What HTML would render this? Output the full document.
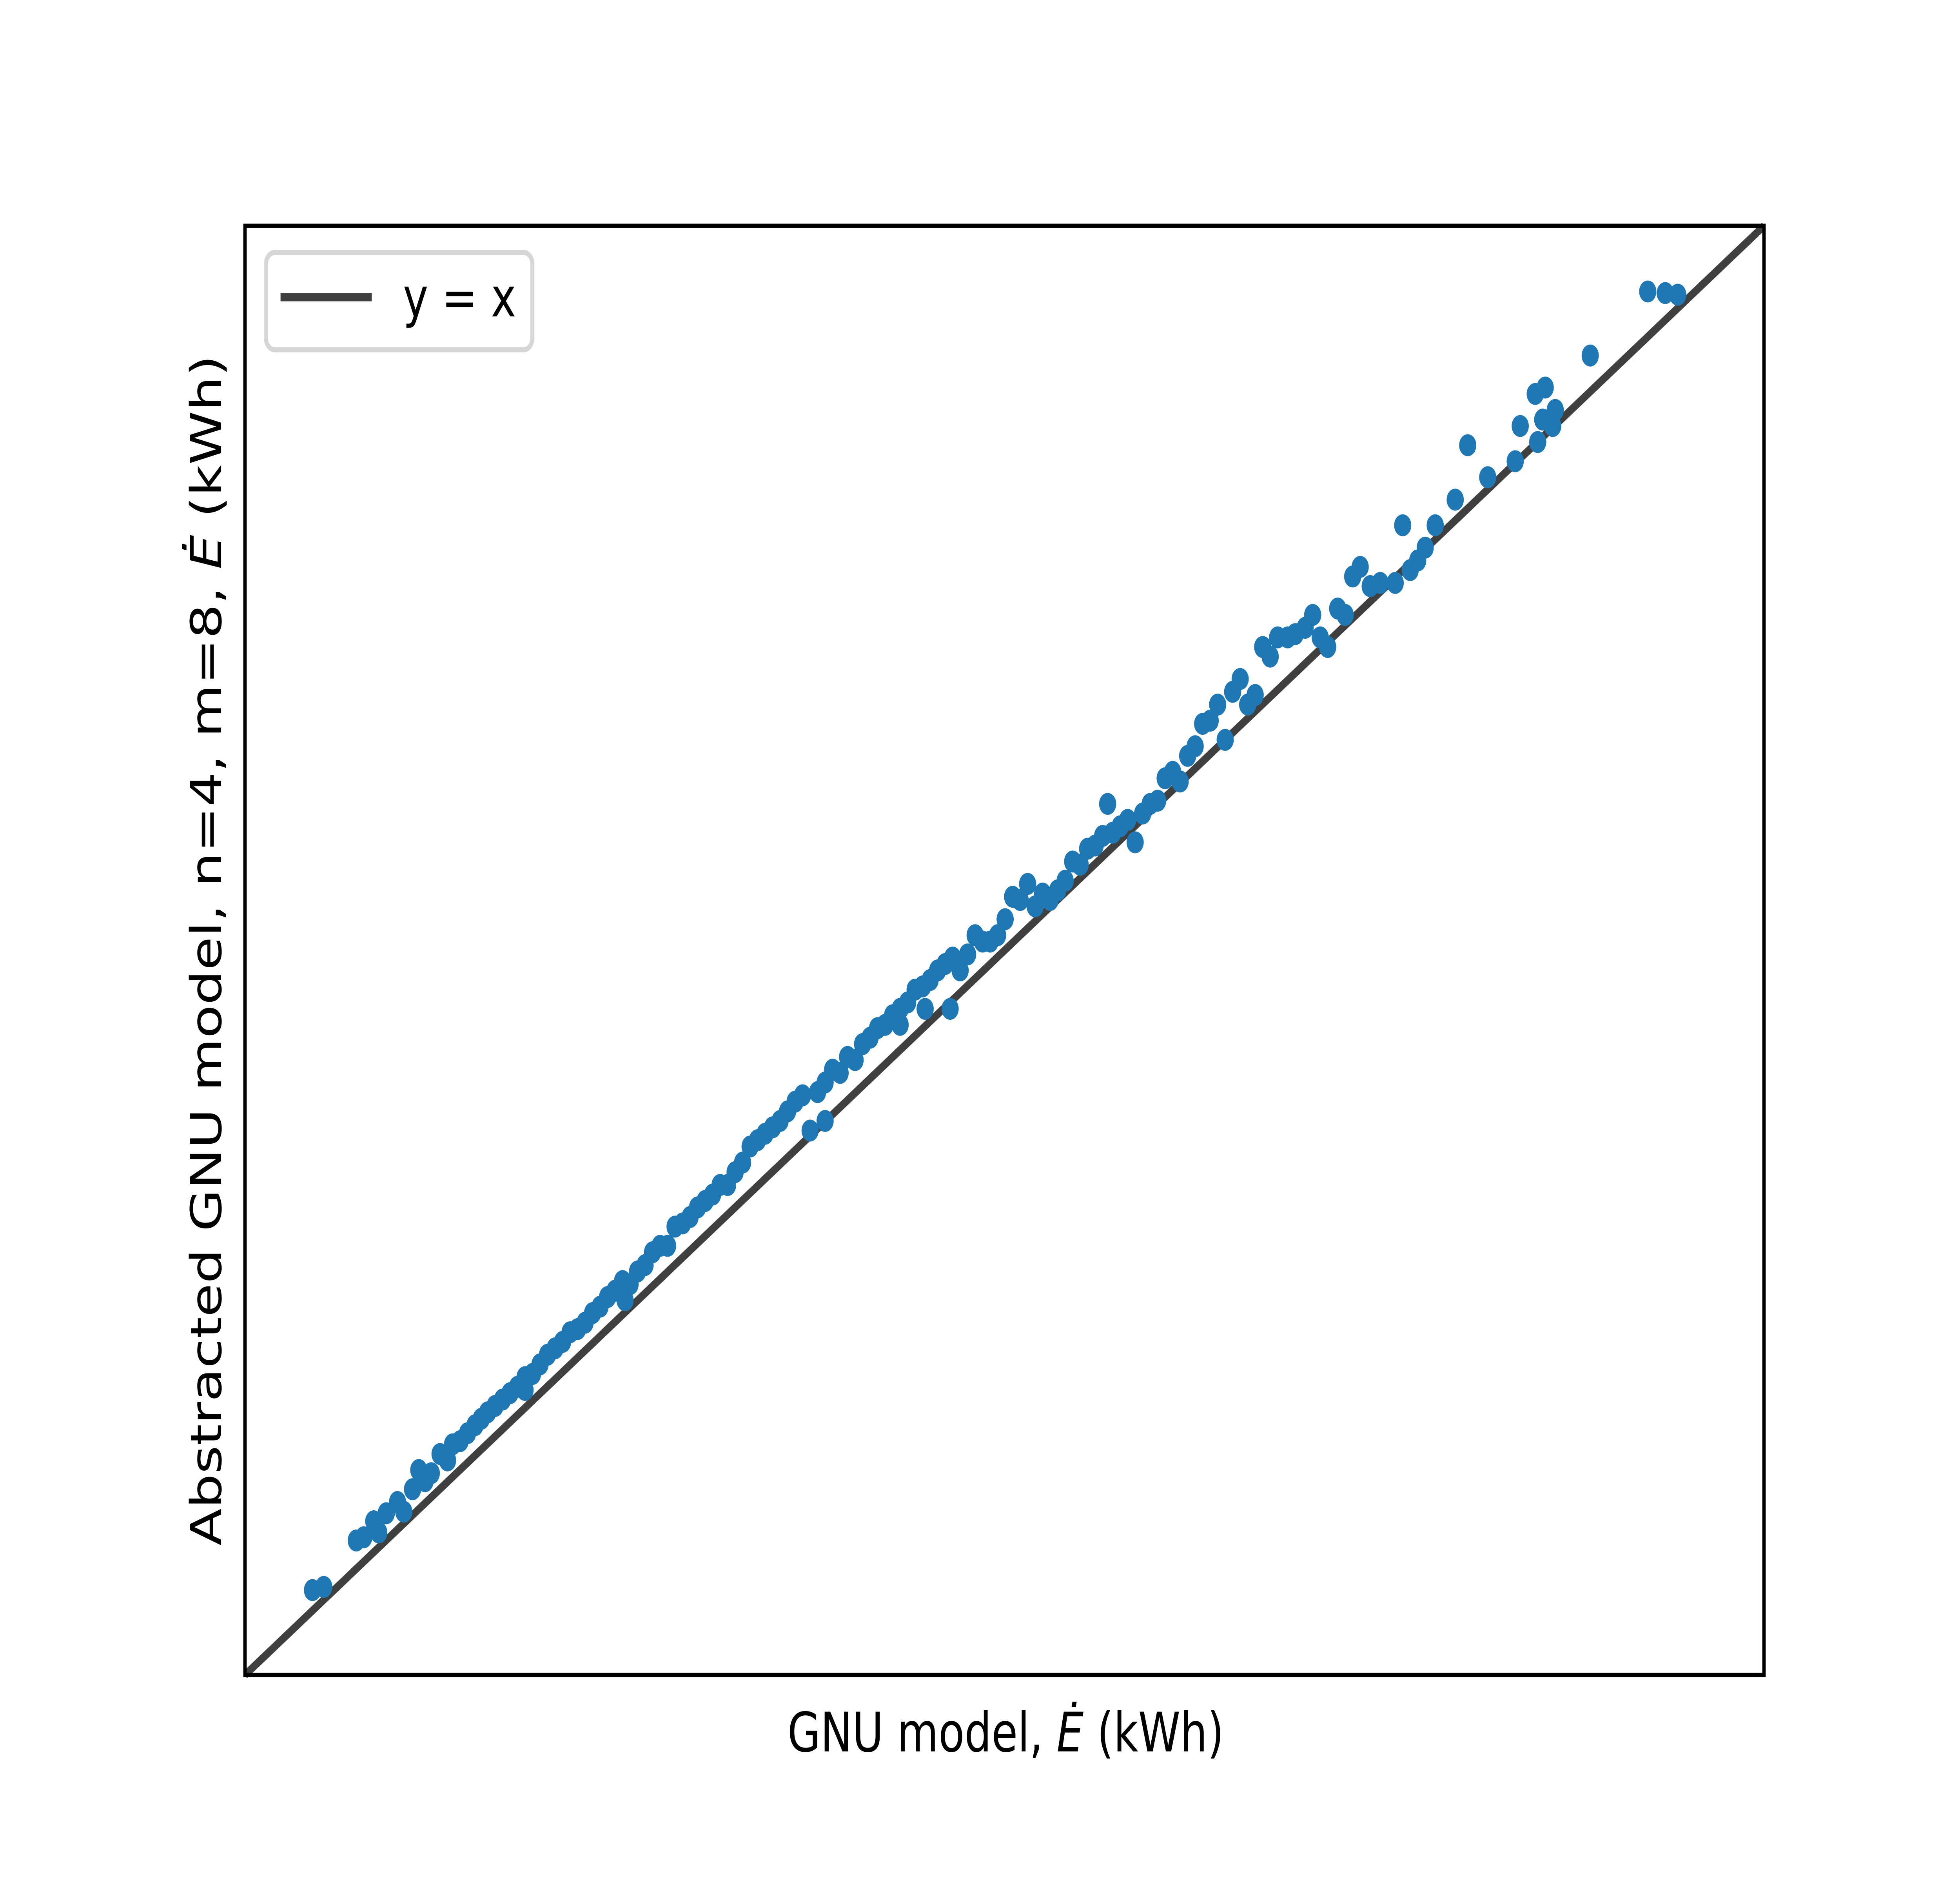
<!DOCTYPE html>
<html><head><meta charset="utf-8"><style>
html,body{margin:0;padding:0;background:#fff;width:100%;height:100%;overflow:hidden;}
svg{display:block;position:absolute;left:0;top:0;width:100vw;height:100vh;font-family:"DejaVu Sans","Liberation Sans",sans-serif;}
</style></head><body>
<svg id="chart" viewBox="0 0 6400 4800" preserveAspectRatio="none" xmlns="http://www.w3.org/2000/svg">
<rect x="0" y="0" width="6400" height="4800" fill="#fff"/>
<line id="idline" stroke="#404040" stroke-width="21"/>
<g id="pts"></g>
<rect x="800" y="576" width="4960" height="3696" fill="none" stroke="#000" stroke-width="11"/>
<g>
<rect x="869" y="644" width="869" height="248" rx="28" fill="#fff" stroke="#d6d6d6" stroke-width="13"/>
<line x1="916" y1="758" x2="1214" y2="758" stroke="#404040" stroke-width="21"/>
<text x="1316" y="807" font-size="139">y = x</text>
</g>
<text x="3284" y="4467" font-size="139" text-anchor="middle">GNU model, <tspan font-style="italic">Ė</tspan> (kWh)</text>
<text transform="translate(722,2424) rotate(-90)" font-size="139" text-anchor="middle">Abstracted GNU model, n=4, m=8, <tspan font-style="italic">Ė</tspan> (kWh)</text>
</svg>
<script>
var xVals=[54,63,89,95,103,107,113,122,127,134,139,144,149,156,162,166,172,178,184,189,194,200,206,212,218,224,230,236,242,248,254,260,266,272,278,284,290,296,302,308,314,320,326,332,338,344,350,356,362,368,374,380,386,392,398,404,410,416,422,428,434,440,446,452,458,464,470,476,482,488,494,500,506,512,518,524,530,536,542,548,554,560,566,572,578,584,590,596,602,608,614,620,626,632,638,644,650,656,662,668,674,680,686,690,694,700,706,712,718,724,730,736,742,748,754,760,766,772,778,784,790,796,802,808,814,820,826,834,840,848,854,860,866,874,880,886,892,900,908,920,926,932,938,944,952,968,978,994,1016,1020,1032,1034,1038,1040,1048,1046,1076,1122,1136,1146,564,544,464,524,304,224];
var yVals=[53,55,84,86,96,89,101,108,102,116,128,121,126,138,134,144,146,151,156,160,164,168,172,176,180,186,188,194,200,204,208,214,216,220,226,230,236,240,246,244,252,256,264,268,268,280,282,286,292,296,300,306,306,314,320,330,334,338,342,346,352,358,362,340,364,370,378,376,386,384,394,398,404,406,412,416,420,428,430,434,440,444,448,440,450,462,458,458,462,472,486,484,494,480,488,484,490,496,508,506,516,518,524,544,526,530,534,520,538,544,546,560,564,558,574,580,594,596,606,584,614,622,606,612,642,636,648,648,650,654,662,648,642,666,662,686,692,680,682,682,718,690,696,704,718,734,768,748,758,780,800,770,784,804,790,780,824,864,863,862,416,416,346,406,234,178];
var xDomain=[0,1215], yDomain=[0,905];
function xs(v){return 800+(v-xDomain[0])/(xDomain[1]-xDomain[0])*4960;}
function ys(v){return 4272-(v-yDomain[0])/(yDomain[1]-yDomain[0])*3696;}
var NS="http://www.w3.org/2000/svg";
var ln=document.getElementById('idline');
ln.setAttribute('x1',xs(xDomain[0]));ln.setAttribute('y1',ys(yDomain[0]));
ln.setAttribute('x2',xs(xDomain[1]));ln.setAttribute('y2',ys(yDomain[1]));
var g=document.getElementById('pts');
for(var i=0;i<xVals.length;i++){
  var c=document.createElementNS(NS,'circle');
  
  
  c.setAttribute('cx',xs(xVals[i]));
  c.setAttribute('cy',ys(yVals[i]));
  c.setAttribute('r',28);
  c.setAttribute('fill','#1f77b4');
  g.appendChild(c);
}
</script>
</body></html>
